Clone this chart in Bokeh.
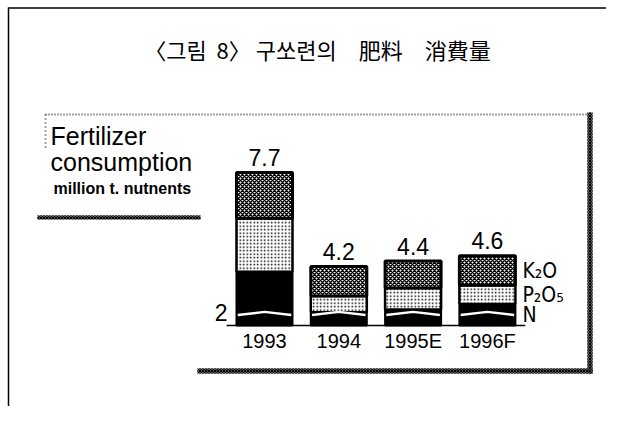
from bokeh.plotting import figure
from bokeh.models import Range1d, ColumnDataSource
from bokeh.core.properties import value
from bokeh.embed import file_html
from bokeh.resources import INLINE

# ---- data ----
title_text = "〈그림\u00a0\u00a08〉 구쏘련의\u3000肥料\u3000消費量"
heading_lines = ["Fertilizer", "consumption"]
unit_text = "million t. nutnents"
years = ["1993", "1994", "1995E", "1996F"]
n_vals = [4.0, 2.5, 2.6, 2.8]      # N
p_vals = [2.0, 0.6, 0.8, 0.7]      # P2O5
k_vals = [1.7, 1.1, 1.0, 1.1]      # K2O
series_names = ["N", "P₂O₅", "K₂O"]
axis_base = 2.0                    # broken axis starts at 2
axis_break = 2.45

# ---- figure (frame = full canvas; main ranges in pixel units for decorations) ----
W, H = 606, 406
p = figure(width=W, height=H, output_backend="svg", toolbar_location=None,
           x_range=Range1d(0, W), y_range=Range1d(H, 0),
           x_axis_location=None, y_axis_location=None, min_border=0,
           outline_line_color=None, background_fill_color="white",
           border_fill_color="white")
p.grid.visible = False
p.extra_x_ranges = {"idx": Range1d(-3.553, 4.603)}
p.extra_y_ranges = {"val": Range1d(-1.013, 14.103)}
XR, YR = "idx", "val"

idx = list(range(len(years)))
p_top = [n + q for n, q in zip(n_vals, p_vals)]
k_top = [a + k for a, k in zip(p_top, k_vals)]
src = ColumnDataSource(dict(
    x=idx, year=years, base=[axis_base] * len(years),
    n_top=n_vals, p_top=p_top, k_top=k_top,
    total=[f"{t:.1f}" for t in k_top]))

FONT = value("Liberation Sans")
NARROW = value("DejaVu Sans Condensed, Liberation Sans, sans-serif")
BW = 0.754

# bars
p.vbar(x="x", width=BW, bottom="base", top="n_top", source=src,
       fill_color="black", line_color="black", line_width=2,
       x_range_name=XR, y_range_name=YR)
p.vbar(x="x", width=BW, bottom="n_top", top="p_top", source=src,
       fill_color="white", hatch_pattern="dot", hatch_color="black",
       hatch_scale=3.5, hatch_weight=2.2, line_color="black", line_width=2.5,
       x_range_name=XR, y_range_name=YR)
p.vbar(x="x", width=BW, bottom="p_top", top="k_top", source=src,
       fill_color="white", hatch_pattern="x", hatch_color="black",
       hatch_scale=4, hatch_weight=1.5, line_color="black", line_width=3,
       x_range_name=XR, y_range_name=YR)

# axis break marks (white hump across each bar)
p.multi_line(xs=[[i - 0.36, i, i + 0.36] for i in idx],
             ys=[[axis_break - 0.06, axis_break + 0.06, axis_break - 0.06] for _ in idx],
             line_color="white", line_width=2.5,
             x_range_name=XR, y_range_name=YR)

# baseline
p.line(x=[idx[0] - 0.51, idx[-1] + 0.51], y=[axis_base, axis_base],
       line_color="black", line_width=1.5, x_range_name=XR, y_range_name=YR)

# totals, year labels, base label
p.text(x="x", y="k_top", text="total", source=src, y_offset=-15,
       text_align="center", text_baseline="middle",
       text_font=FONT, text_font_size="23px", text_color="black",
       x_range_name=XR, y_range_name=YR)
p.text(x="x", y="base", text="year", source=src, y_offset=15,
       text_align="center", text_baseline="middle",
       text_font=FONT, text_font_size="20px", text_color="black",
       x_range_name=XR, y_range_name=YR)
p.text(x=[idx[0]], y=[axis_base], text=[f"{axis_base:g}"], x_offset=-37, y_offset=-13,
       text_align="right", text_baseline="middle",
       text_font=FONT, text_font_size="23px", text_color="black",
       x_range_name=XR, y_range_name=YR)

# series labels beside the last bar, at segment midpoints
last = len(years) - 1
mids = [(axis_base + n_vals[last]) / 2,
        (n_vals[last] + p_top[last]) / 2,
        (p_top[last] + k_top[last]) / 2]
p.text(x=[idx[last]] * 3, y=mids, text=series_names, x_offset=35,
       text_align="left", text_baseline="middle",
       text_font=NARROW, text_font_size="21px", text_color="black",
       x_range_name=XR, y_range_name=YR)

# ---- decorations (pixel units) ----
p.line(x=[8, W], y=[7.5, 7.5], line_color="black", line_width=1.5)
p.line(x=[8, 8], y=[7, H], line_color="black", line_width=1.5)

p.text(x=[317], y=[48], text=[title_text], text_align="center", text_baseline="middle",
       text_font=value("Noto Sans CJK KR"), text_font_size="22px", text_color="black")

# box: dotted top/left, hatched right/bottom
p.line(x=[45, 587], y=[114, 114], line_color="#444444", line_width=2, line_dash="1 2")
p.line(x=[45, 45], y=[114, 150], line_color="#444444", line_width=2, line_dash="1 3")
p.quad(left=[587, 197, 37], right=[592, 592, 200], top=[112, 368, 215], bottom=[373, 373, 219],
       fill_color="#555555", hatch_pattern="x", hatch_color="black", hatch_scale=3,
       hatch_weight=1, line_color=None)

p.text(x=[50, 50], y=[135, 161], text=heading_lines, text_align="left",
       text_baseline="middle", text_font=FONT, text_font_size="25px", text_color="black")
p.text(x=[53], y=[187.5], text=[unit_text], text_align="left", text_baseline="middle",
       text_font=FONT, text_font_size="16px", text_font_style="bold", text_color="black")

open("out.html", "w").write(file_html(p, INLINE))
